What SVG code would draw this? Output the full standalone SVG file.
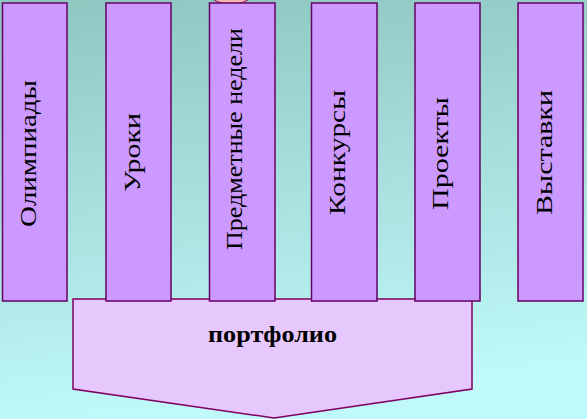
<svg xmlns="http://www.w3.org/2000/svg" width="587" height="419" viewBox="0 0 587 419">
  <defs>
    <linearGradient id="bg" x1="0" y1="0" x2="0.15" y2="1">
      <stop offset="0" stop-color="#8ec6c0"/>
      <stop offset="1" stop-color="#bff9f9"/>
    </linearGradient>
    <style>
      .col { fill: #cc99ff; stroke: #660066; stroke-width: 1.5; }
      .arrow { fill: #e6c8fc; stroke: #800060; stroke-width: 1.5; }
      .lbl { font-family: "Liberation Serif", "Times New Roman", serif; font-size: 23px; fill: #000; }
      .main { font-family: "Liberation Serif", "Times New Roman", serif; font-size: 24px; font-weight: bold; fill: #000; }
    </style>
  </defs>
  <rect x="0" y="0" width="587" height="419" fill="url(#bg)"/>

  <g id="deco">
    <ellipse cx="231" cy="-6" rx="21" ry="10" fill="#f3b8b0" stroke="#993366" stroke-width="1.2"/>
  </g>

  <g id="portfolio">
    <polygon class="arrow" points="73,299 472,299 472,389 274,418 73,389"/>
    <text class="main" x="272.5" y="342" text-anchor="middle" textLength="129" lengthAdjust="spacingAndGlyphs">портфолио</text>
  </g>

  <g id="connectors"></g>

  <g id="olimpiady">
    <rect class="col" x="2.5" y="3" width="64.5" height="298"/>
    <text class="lbl" transform="translate(36,153.5) rotate(-90)" text-anchor="middle" textLength="147" lengthAdjust="spacingAndGlyphs">Олимпиады</text>
  </g>
  <g id="uroki">
    <rect class="col" x="106" y="3" width="65" height="298"/>
    <text class="lbl" transform="translate(139.5,152.5) rotate(-90)" text-anchor="middle" textLength="79" lengthAdjust="spacingAndGlyphs">Уроки</text>
  </g>
  <g id="nedeli">
    <rect class="col" x="209.5" y="3" width="65.5" height="298"/>
    <text class="lbl" transform="translate(242,139) rotate(-90)" text-anchor="middle" textLength="222" lengthAdjust="spacingAndGlyphs">Предметные недели</text>
  </g>
  <g id="konkursy">
    <rect class="col" x="311.5" y="3" width="65.5" height="298"/>
    <text class="lbl" transform="translate(345,152.5) rotate(-90)" text-anchor="middle" textLength="125" lengthAdjust="spacingAndGlyphs">Конкурсы</text>
  </g>
  <g id="proekty">
    <rect class="col" x="415" y="3" width="65" height="298"/>
    <text class="lbl" transform="translate(448,153.5) rotate(-90)" text-anchor="middle" textLength="113" lengthAdjust="spacingAndGlyphs">Проекты</text>
  </g>
  <g id="vystavki">
    <rect class="col" x="518" y="3" width="65" height="298"/>
    <text class="lbl" transform="translate(552,152.5) rotate(-90)" text-anchor="middle" textLength="125" lengthAdjust="spacingAndGlyphs">Выставки</text>
  </g>
</svg>
